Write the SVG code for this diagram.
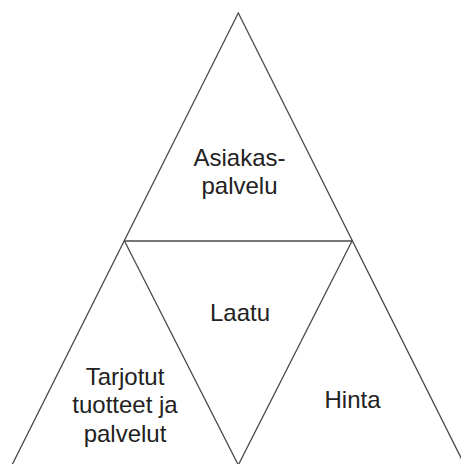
<svg xmlns="http://www.w3.org/2000/svg" width="461" height="464" viewBox="0 0 461 464">
<style>
.ln{stroke:#4a4a4a;stroke-width:1.3;fill:none;stroke-linecap:round}
.t{font-family:"Liberation Sans",Arial,sans-serif;font-size:24px;fill:#222;text-anchor:middle}
</style>
<rect width="461" height="464" fill="#fff"/>
<g id="connectors">
<line class="ln" x1="238.3" y1="13" x2="12" y2="465"/>
<line class="ln" x1="238.3" y1="13" x2="464.6" y2="465"/>
<line class="ln" x1="124.5" y1="241" x2="352" y2="241"/>
<line class="ln" x1="124.5" y1="241" x2="238.3" y2="465"/>
<line class="ln" x1="352" y1="241" x2="238.3" y2="465"/>
</g>
<g id="asiakaspalvelu"><text class="t" x="239.5" y="165.5">Asiakas-</text><text class="t" x="239.5" y="193.5">palvelu</text></g>
<g id="laatu"><text class="t" x="240" y="321.3">Laatu</text></g>
<g id="tarjotut"><text class="t" x="125" y="385">Tarjotut</text><text class="t" x="125" y="413.3">tuotteet ja</text><text class="t" x="125" y="441.6">palvelut</text></g>
<g id="hinta"><text class="t" x="352.5" y="408.3">Hinta</text></g>
</svg>
